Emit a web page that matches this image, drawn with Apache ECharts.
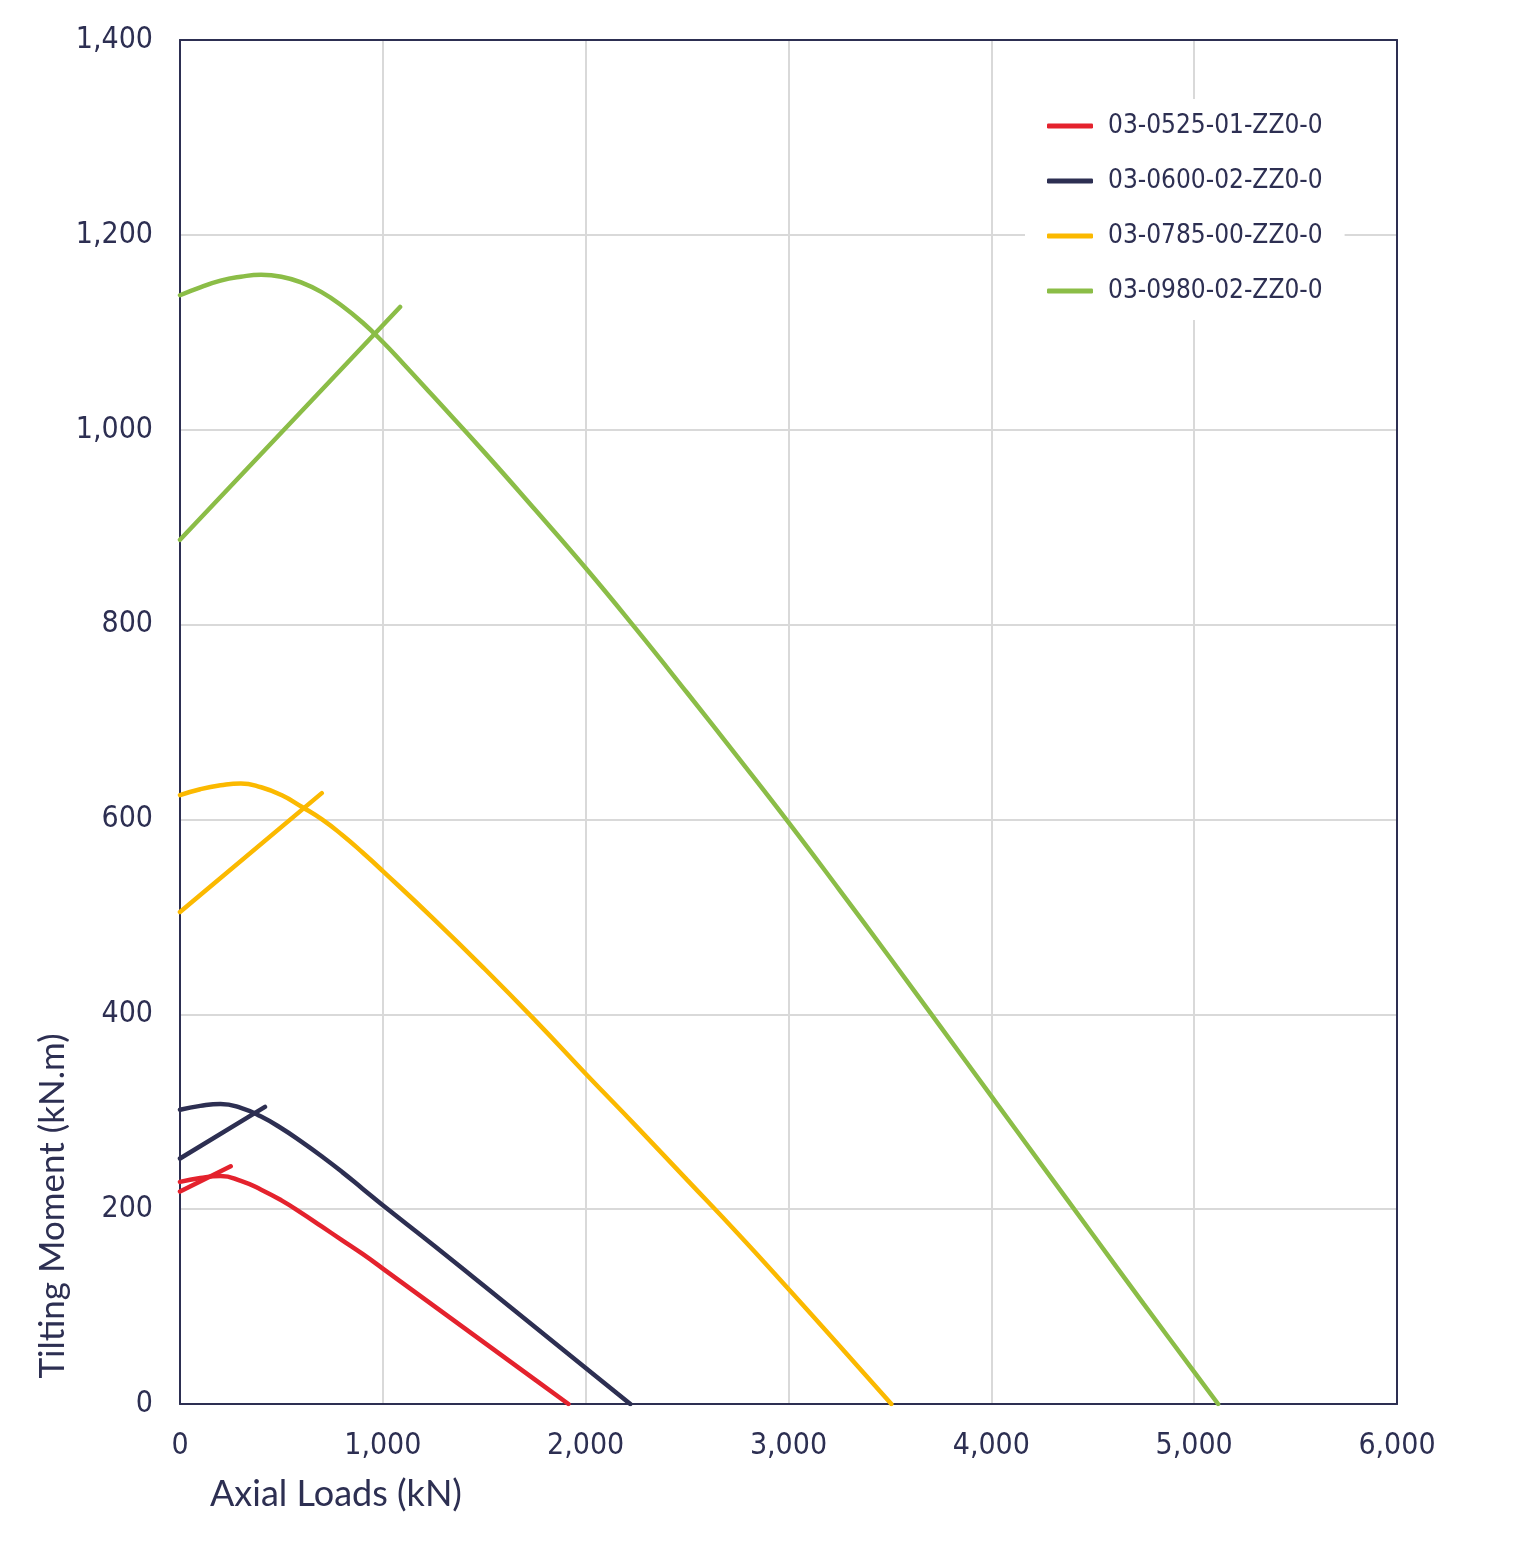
<!DOCTYPE html>
<html>
<head>
<meta charset="utf-8">
<script src="https://cdn.jsdelivr.net/npm/echarts@6/dist/echarts.min.js"></script>
<style>
  html, body { margin: 0; padding: 0; background: #ffffff; }
  #chart { width: 1518px; height: 1559px; }
</style>
</head>
<body>
<div id="chart"></div>
<script>
const MODELOS = ['03-0525-01-ZZ0-0', '03-0600-02-ZZ0-0', '03-0785-00-ZZ0-0', '03-0980-02-ZZ0-0'];
const COLORES = ['#e4222d', '#2d2f52', '#fbb900', '#8bbd47'];

// [axial load kN, tilting moment kN.m]
const m0525_curva = [[0,228],[100,232],[200,234],[300,229],[400,220],[500,209],[600,196],[700,182],[800,168],[900,154],[1000,139],[1250,101],[1500,63],[1750,25],[1915,0]];
const m0525_recta = [[0,218],[250,244]];

const m0600_curva = [[0,302],[100,306],[200,308],[300,304],[400,295],[500,283],[600,269],[700,254],[800,238],[900,221],[1000,204],[1250,163],[1500,121],[1750,79],[2000,37],[2220,0]];
const m0600_recta = [[0,252],[419,305]];

const m0785_curva = [[0,625],[100,631],[200,635],[300,637],[400,633],[500,625],[600,613],[700,600],[800,584],[900,566],[1000,547],[1250,498],[1500,447],[1750,394],[2000,339],[2250,285],[2500,230],[2750,175],[3000,118],[3250,60],[3507,0]];
const m0785_recta = [[0,505],[699,627]];

const m0980_curva = [[0,1138],[100,1146],[200,1153],[300,1157],[400,1159],[500,1157],[600,1151],[700,1141],[800,1127],[900,1110],[1000,1090],[1100,1068],[1250,1034],[1500,977],[1750,918],[2000,858],[2250,795],[2500,730],[2750,664],[3000,597],[3250,528],[3500,458],[3750,387],[4000,316],[4250,245],[4500,174],[4750,103],[5000,33],[5118,0]];
const m0980_recta = [[0,887],[1085,1126]];

const curvas = [m0525_curva, m0600_curva, m0785_curva, m0980_curva];
const rectas = [m0525_recta, m0600_recta, m0785_recta, m0980_recta];

const TEXTO = '#2d2f52';
const FUENTE_NUM = '"DejaVu Sans Condensed", "DejaVu Sans", sans-serif';

let series = [];
MODELOS.forEach(function(nombre, i) {
    series.push({
        name: nombre,
        type: 'line',
        data: curvas[i],
        smooth: 0.5,
        showSymbol: false,
        lineStyle: { color: COLORES[i], width: 4.5, cap: 'round' },
        itemStyle: { color: COLORES[i] },
        z: 3
    });
    series.push({
        name: nombre,
        type: 'line',
        data: rectas[i],
        showSymbol: false,
        lineStyle: { color: COLORES[i], width: 4.5, cap: 'round' },
        itemStyle: { color: COLORES[i] },
        z: 3
    });
});

const ejeBorde = {
    show: true,
    onZero: false,
    lineStyle: { color: TEXTO, width: 2 }
};

let opcion = {
    animation: false,
    backgroundColor: '#ffffff',
    grid: {
        left: 180, right: 121, top: 40, bottom: 155
    },
    legend: {
        data: MODELOS,
        orient: 'vertical',
        left: 1025,
        top: 99,
        padding: [14, 22, 16, 22],
        backgroundColor: '#ffffff',
        itemGap: 29,
        itemWidth: 46,
        itemHeight: 5,
        icon: 'roundRect',
        textStyle: {
            color: TEXTO,
            fontSize: 26,
            lineHeight: 26,
            fontFamily: FUENTE_NUM,
            padding: [0, 0, 0, 10]
        },
        z: 10
    },
    xAxis: [
        {
            type: 'value',
            min: 0,
            max: 6000,
            interval: 1000,
            axisLine: ejeBorde,
            axisTick: { show: false },
            axisLabel: {
                color: TEXTO,
                fontSize: 30,
                fontFamily: FUENTE_NUM,
                margin: 27,
                formatter: function(v) { return v.toLocaleString('en-US'); }
            },
            splitLine: { show: true, lineStyle: { color: '#d9d9d9', width: 2 } }
        },
        {
            type: 'value',
            position: 'top',
            min: 0,
            max: 6000,
            interval: 1000,
            axisLine: ejeBorde,
            axisTick: { show: false },
            axisLabel: { show: false },
            splitLine: { show: false }
        }
    ],
    yAxis: [
        {
            type: 'value',
            min: 0,
            max: 1400,
            interval: 200,
            axisLine: ejeBorde,
            axisTick: { show: false },
            axisLabel: {
                color: TEXTO,
                fontSize: 30,
                fontFamily: FUENTE_NUM,
                margin: 27,
                formatter: function(v) { return v.toLocaleString('en-US'); }
            },
            splitLine: { show: true, lineStyle: { color: '#d9d9d9', width: 2 } }
        },
        {
            type: 'value',
            position: 'right',
            min: 0,
            max: 1400,
            interval: 200,
            axisLine: ejeBorde,
            axisTick: { show: false },
            axisLabel: { show: false },
            splitLine: { show: false }
        }
    ],
    graphic: [
        {
            type: 'text',
            x: 53,
            y: 1206,
            rotation: Math.PI / 2,
            style: {
                text: 'Tilting Moment (kN.m)',
                fill: TEXTO,
                font: '35px Lato, "Noto Sans", sans-serif',
                align: 'center',
                verticalAlign: 'middle'
            }
        },
        {
            type: 'text',
            x: 210,
            y: 1494,
            style: {
                text: 'Axial Loads (kN)',
                fill: TEXTO,
                font: '36px Lato, "Noto Sans", sans-serif',
                align: 'left',
                verticalAlign: 'middle'
            }
        }
    ],
    series: series
};

var miGrafico = echarts.init(document.getElementById('chart'));
miGrafico.setOption(opcion);
</script>
</body>
</html>
